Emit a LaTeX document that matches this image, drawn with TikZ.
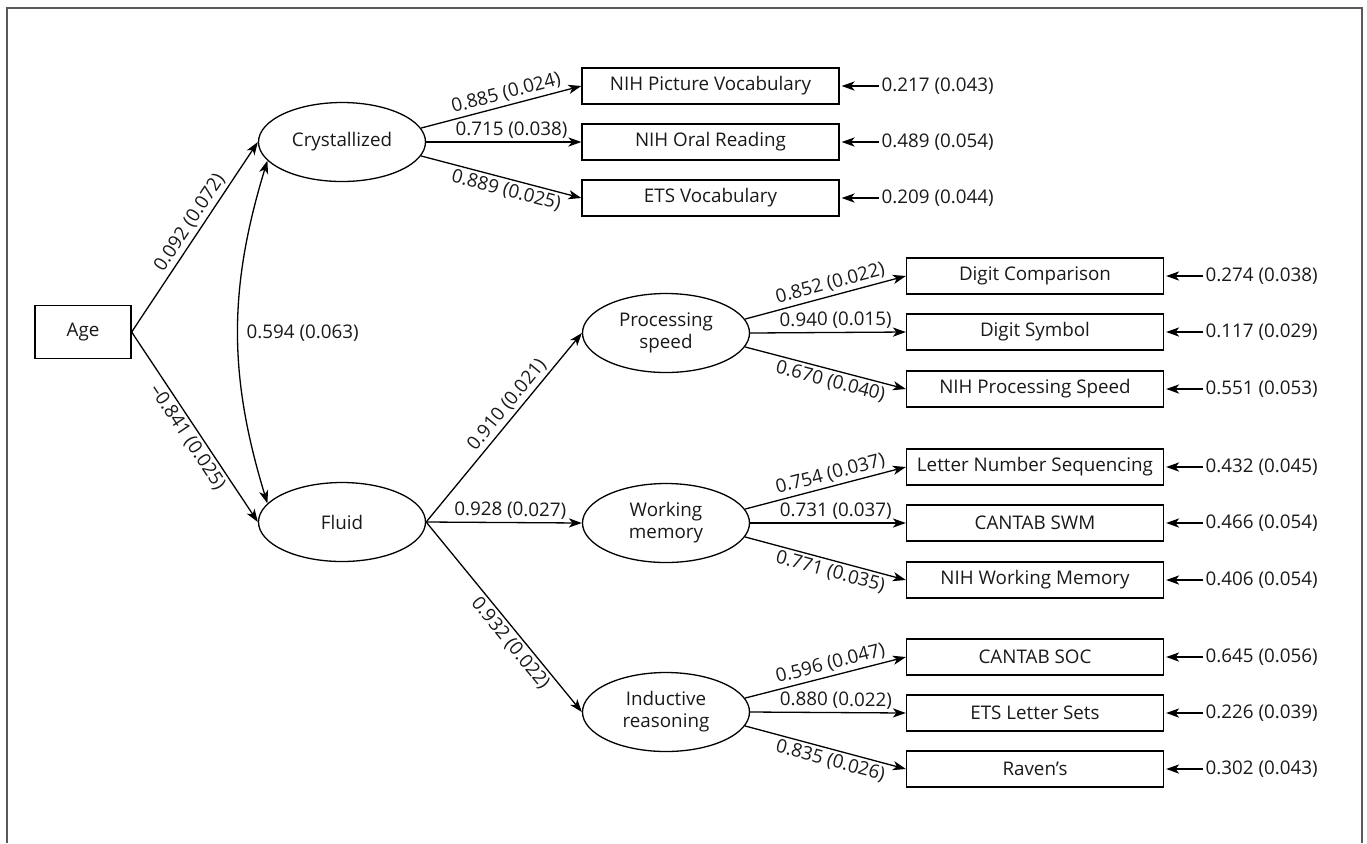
\documentclass[tikz,border=0pt]{standalone}
\usepackage{fontspec}
\setmainfont{Open Sans}
\usetikzlibrary{arrows.meta,shapes.geometric}

\tikzset{
	obs/.style={draw,minimum width=128.5pt,minimum height=18pt,inner sep=0pt},
	lat/.style={draw,ellipse,minimum width=83.5pt,minimum height=39.5pt,inner sep=0pt,align=center},
	tip/.tip={Stealth[length=6.5pt,width=4.6pt,inset=1.8pt]},
	eff/.style={-tip},
	coef/.style={sloped,inner sep=1.5pt},
	res/.style={anchor=west,inner sep=1pt}
}

\begin{document}
\begin{tikzpicture}[x=0.5pt,y=-0.5pt,line width=0.65pt,font=\fontsize{9.4}{11}\selectfont,text=black!90]
	\useasboundingbox (0,0) rectangle (1367,843);
	\draw[black!65,line width=0.8pt] (7,843) -- (7,8) -- (1362,8) -- (1362,843);

	% latent and exogenous variables
	\node[draw,minimum width=48pt,minimum height=26.5pt] (age) at (83,332) {Age};
	\node[lat] (cry) at (342,142) {Crystallized};
	\node[lat] (flu) at (342,522) {Fluid};
	\node[lat] (spd) at (666,333) {Processing\\speed};
	\node[lat] (wm) at (666,523) {Working\\memory};
	\node[lat] (ind) at (666,712) {Inductive\\reasoning};

	% indicators
	\node[obs] (picvoc) at (710.5,86) {NIH Picture Vocabulary};
	\node[obs] (oral) at (710.5,142) {NIH Oral Reading};
	\node[obs] (etsvoc) at (710.5,198) {ETS Vocabulary};
	\node[obs] (digcmp) at (1035,276) {Digit Comparison};
	\node[obs] (digsym) at (1035,332) {Digit Symbol};
	\node[obs] (nihps) at (1035,389) {NIH Processing Speed};
	\node[obs] (lns) at (1035,467) {Letter Number Sequencing};
	\node[obs] (swm) at (1035,523) {CANTAB SWM};
	\node[obs] (nihwm) at (1035,580) {NIH Working Memory};
	\node[obs] (soc) at (1035,657) {CANTAB SOC};
	\node[obs] (lset) at (1035,713) {ETS Letter Sets};
	\node[obs] (raven) at (1035,769) {Raven’s};

	% residual variances
	\node[res] (rpicvoc) at (879,86) {0.217 (0.043)};
	\node[res] (roral) at (879,142) {0.489 (0.054)};
	\node[res] (retsvoc) at (879,198) {0.209 (0.044)};
	\node[res] (rdigcmp) at (1203,276) {0.274 (0.038)};
	\node[res] (rdigsym) at (1203,332) {0.117 (0.029)};
	\node[res] (rnihps) at (1203,389) {0.551 (0.053)};
	\node[res] (rlns) at (1203,467) {0.432 (0.045)};
	\node[res] (rswm) at (1203,523) {0.466 (0.054)};
	\node[res] (rnihwm) at (1203,580) {0.406 (0.054)};
	\node[res] (rsoc) at (1203,657) {0.645 (0.056)};
	\node[res] (rlset) at (1203,713) {0.226 (0.039)};
	\node[res] (rraven) at (1203,769) {0.302 (0.043)};
	\foreach \v in {picvoc,oral,etsvoc,digcmp,digsym,nihps,lns,swm,nihwm,soc,lset,raven}
		\draw[eff,shorten >=1pt] (r\v.west) -- (\v.east);

	% structural paths
	\draw[eff] (age.east) -- node[coef,above,pos=0.54] {0.092 (0.072)} (cry.west);
	\draw[eff] (age.east) -- node[coef,below,pos=0.52] {\textendash0.841 (0.025)} (flu.west);
	\draw[tip-tip] (cry.194) to[bend right=17] (flu.166);
	\node[anchor=west,inner sep=1pt] (corr) at (244,333) {0.594 (0.063)};
	\draw[eff] (flu.east) -- node[coef,above,pos=0.58] {0.910 (0.021)} (spd.west);
	\draw[eff] (flu.east) -- node[coef,above,pos=0.54] {0.928 (0.027)} (wm.west);
	\draw[eff] (flu.east) -- node[coef,below,pos=0.6] {0.932 (0.022)} (ind.west);

	% loadings
	\draw[eff] (cry.10) -- node[coef,above,pos=0.55] {0.885 (0.024)} (picvoc.west);
	\draw[eff] (cry.east) -- node[coef,above,pos=0.55] {0.715 (0.038)} (oral.west);
	\draw[eff] (cry.-10) -- node[coef,below,pos=0.55] {0.889 (0.025)} (etsvoc.west);
	\draw[eff] (spd.10) -- node[coef,above,pos=0.55] {0.852 (0.022)} (digcmp.west);
	\draw[eff] (spd.east) -- node[coef,above,pos=0.55] {0.940 (0.015)} (digsym.west);
	\draw[eff] (spd.-10) -- node[coef,below,pos=0.55] {0.670 (0.040)} (nihps.west);
	\draw[eff] (wm.10) -- node[coef,above,pos=0.55] {0.754 (0.037)} (lns.west);
	\draw[eff] (wm.east) -- node[coef,above,pos=0.55] {0.731 (0.037)} (swm.west);
	\draw[eff] (wm.-10) -- node[coef,below,pos=0.55] {0.771 (0.035)} (nihwm.west);
	\draw[eff] (ind.10) -- node[coef,above,pos=0.55] {0.596 (0.047)} (soc.west);
	\draw[eff] (ind.east) -- node[coef,above,pos=0.55] {0.880 (0.022)} (lset.west);
	\draw[eff] (ind.-10) -- node[coef,below,pos=0.55] {0.835 (0.026)} (raven.west);
\end{tikzpicture}
\end{document}
